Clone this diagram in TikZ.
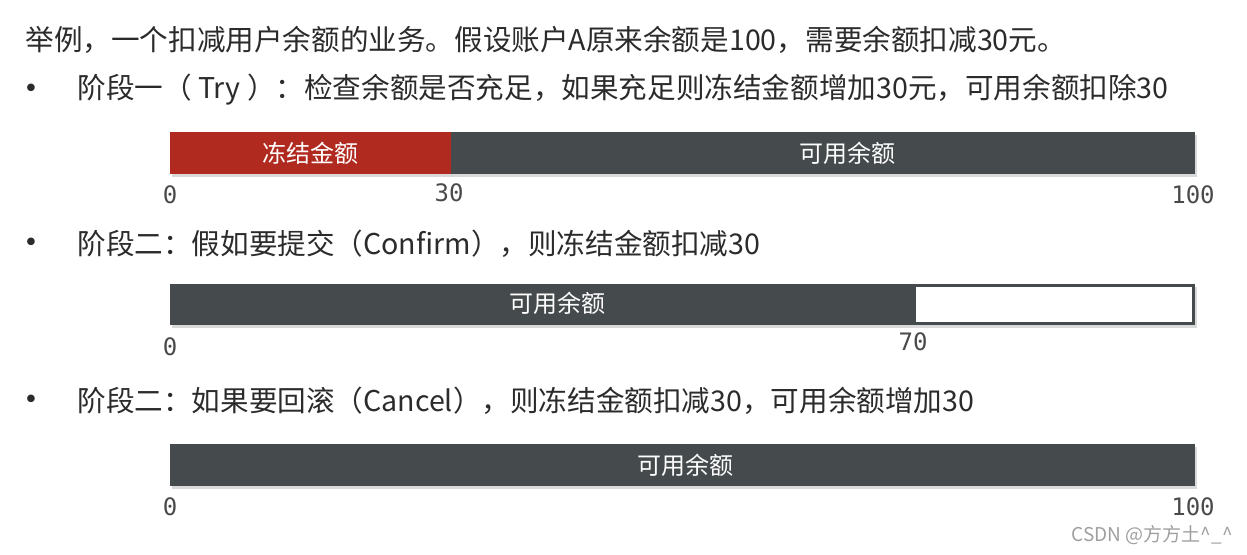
\documentclass[tikz,border=0pt]{standalone}
\usepackage{fontspec}
\setmainfont{Noto Sans CJK SC}
\newfontfamily\numfont{DejaVu Sans Mono}
\newfontfamily\dotfont{DejaVu Sans}
\definecolor{frozen}{HTML}{B02A1F}
\definecolor{avail}{HTML}{454B4D}
\definecolor{txt}{HTML}{2B2B2B}
\definecolor{tickgray}{HTML}{4A4A4A}

\begin{document}
\begin{tikzpicture}[x=0.5pt,y=-0.5pt,line/.style={anchor=west,inner sep=0pt,text=txt,font=\fontsize{14.3}{16}\selectfont},bullet/.style={anchor=center,inner sep=0pt,text=txt,font=\dotfont\fontsize{13}{15}\selectfont},barlbl/.style={text=white,inner sep=0pt,font=\fontsize{12}{14}\selectfont},tick/.style={text=tickgray,inner sep=0pt,font=\numfont\fontsize{12}{14}\selectfont},shade/.style={fill=black,opacity=0.15}]
\def\xa{170};
\def\xb{1195};
\def\xc{451};
\def\xd{916};
\def\bh{42};

\useasboundingbox (0,0) rectangle (1247,554);

\node[line] (intro) at (25,40) {举例，一个扣减用户余额的业务。假设账户A原来余额是100，需要余额扣减30元。};

% try
\node[bullet] (b1) at (31,91) {•};
\node[line] (try) at (77,90) {阶段一（ Try ）：检查余额是否充足，如果充足则冻结金额增加30元，可用余额扣除30};
\fill[shade] (\xa+2,135) rectangle (\xb+2,177);
\fill[frozen] (\xa,132) rectangle (\xc,132+\bh);
\fill[avail] (\xc,132) rectangle (\xb,132+\bh);
\node[barlbl] (f1) at (310,153) {冻结金额};
\node[barlbl] (a1) at (847,153) {可用余额};
\node[tick] (t10) at (170,195) {0};
\node[tick] (t130) at (449,193) {30};
\node[tick] (t1100) at (1193,195) {100};

% confirm
\node[bullet] (b2) at (31,245) {•};
\node[line] (confirm) at (77,244) {阶段二：假如要提交（Confirm），则冻结金额扣减30};
\fill[shade] (\xa+2,287) rectangle (\xb+2,328);
\fill[avail] (\xa,284) rectangle (\xb,325);
\fill[white] (\xd,287) rectangle (\xb-3,322);
\node[barlbl] (a2) at (557,303) {可用余额};
\node[tick] (t20) at (170,347) {0};
\node[tick] (t270) at (913,342) {70};

% cancel
\node[bullet] (b3) at (31,402) {•};
\node[line] (cancel) at (77,401) {阶段二：如果要回滚（Cancel），则冻结金额扣减30，可用余额增加30};
\fill[shade] (\xa+2,447) rectangle (\xb+2,489);
\fill[avail] (\xa,444) rectangle (\xb,444+\bh);
\node[barlbl] (a3) at (685,465) {可用余额};
\node[tick] (t30) at (170,507) {0};
\node[tick] (t3100) at (1193,507) {100};

\node[anchor=east,inner sep=0pt,text=gray!75,font=\fontsize{9.5}{11}\selectfont] (mark) at (1233,535) {CSDN @方方土\^{}\_\^{}};
\end{tikzpicture}
\end{document}
